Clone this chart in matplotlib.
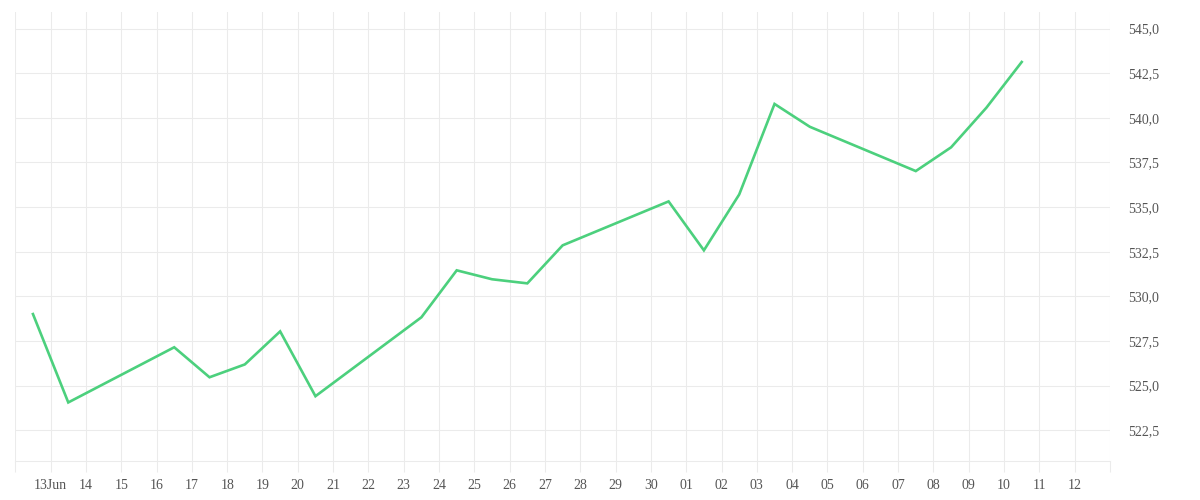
import matplotlib
matplotlib.use("Agg")
import matplotlib.pyplot as plt
import matplotlib.dates as mdates
import numpy as np
import datetime as dt

# ---- data ----
dates = ["2025-06-12 12:00", "2025-06-13 12:00", "2025-06-16 12:00", "2025-06-17 12:00",
         "2025-06-18 12:00", "2025-06-19 12:00", "2025-06-20 12:00", "2025-06-23 12:00",
         "2025-06-24 12:00", "2025-06-25 12:00", "2025-06-26 12:00", "2025-06-27 12:00",
         "2025-06-30 12:00", "2025-07-01 12:00", "2025-07-02 12:00", "2025-07-03 12:00",
         "2025-07-04 12:00", "2025-07-07 12:00", "2025-07-08 12:00", "2025-07-09 12:00",
         "2025-07-10 12:00"]
values = [529.01, 524.06, 527.15, 525.47, 526.19, 528.04, 524.41, 528.83,
          531.46, 530.96, 530.73, 532.86, 535.32, 532.58, 535.71, 540.78,
          539.50, 537.02, 538.35, 540.57, 543.13]
tick_days = ["2025-06-12", "2025-06-13", "2025-06-14", "2025-06-15", "2025-06-16", "2025-06-17",
             "2025-06-18", "2025-06-19", "2025-06-20", "2025-06-21", "2025-06-22", "2025-06-23",
             "2025-06-24", "2025-06-25", "2025-06-26", "2025-06-27", "2025-06-28", "2025-06-29",
             "2025-06-30", "2025-07-01", "2025-07-02", "2025-07-03", "2025-07-04", "2025-07-05",
             "2025-07-06", "2025-07-07", "2025-07-08", "2025-07-09", "2025-07-10", "2025-07-11",
             "2025-07-12", "2025-07-13"]
tick_labels = ["", "13Jun", "14", "15", "16", "17", "18", "19", "20", "21", "22", "23", "24",
               "25", "26", "27", "28", "29", "30", "01", "02", "03", "04", "05", "06", "07",
               "08", "09", "10", "11", "12", ""]
y_ticks = [522.5, 525.0, 527.5, 530.0, 532.5, 535.0, 537.5, 540.0, 542.5, 545.0]
y_tick_labels = ["522,5", "525,0", "527,5", "530,0", "532,5", "535,0", "537,5", "540,0",
                 "542,5", "545,0"]

GRID = "#ebebeb"
TEXT = "#555555"
LINE = "#4cd07d"

plt.rcParams['font.family'] = ['Liberation Serif', 'DejaVu Serif']

fig = plt.figure(figsize=(12, 5), dpi=100)
ax = fig.add_axes([15.3 / 1200, 1 - 461 / 500, (1110 - 15.3) / 1200, (461 - 12) / 500])

x = [dt.datetime.strptime(d, "%Y-%m-%d %H:%M") for d in dates]
ax.plot(x, values, color=LINE, lw=1.9, solid_joinstyle='miter', zorder=3)

tx = [dt.datetime.strptime(d, "%Y-%m-%d") for d in tick_days]
ax.set_xlim(tx[0], tx[-1])
ax.set_xticks(tx)
ax.set_xticklabels(tick_labels)
ax.set_ylim(520.78, 545.93)
ax.set_yticks(y_ticks)
ax.set_yticklabels(y_tick_labels)

ax.yaxis.tick_right()
ax.tick_params(axis='y', length=0, pad=13, labelsize=10, labelcolor=TEXT)
ax.tick_params(axis='x', length=8, width=0.75, color=GRID, pad=5, labelsize=10, labelcolor=TEXT)

ax.grid(True, color=GRID, lw=0.75, zorder=0)
ax.set_axisbelow(True)
for s in ['top', 'left', 'right']:
    ax.spines[s].set_visible(False)
ax.spines['bottom'].set_color(GRID)
ax.spines['bottom'].set_linewidth(0.75)

fig.savefig("out.png", dpi=100, facecolor="white")
